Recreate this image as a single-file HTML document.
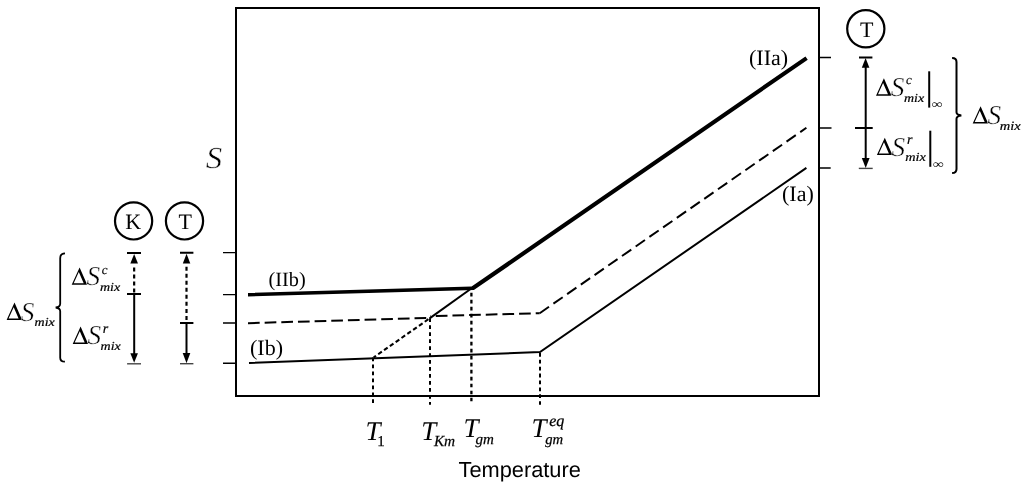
<!DOCTYPE html>
<html><head><meta charset="utf-8">
<style>
html,body{margin:0;padding:0;background:#fff;width:1024px;height:488px;overflow:hidden;}
svg{display:block;will-change:transform;}
text{font-family:"Liberation Serif",serif;fill:#000;text-rendering:geometricPrecision;}
.i{font-style:italic;}
.sans{font-family:"Liberation Sans",sans-serif;}
.b{stroke:#000;stroke-width:0.25px;}
</style></head>
<body>
<svg width="1024" height="488" viewBox="0 0 1024 488">
<defs><path id="dl" d="M0,0L7.9,-17.4L15.5,0ZM2,-1.5L12,-1.5L7.1,-12.74Z" fill="#000" fill-rule="evenodd"/></defs>
<!-- frame -->
<rect x="236" y="8" width="583" height="388" fill="none" stroke="#000" stroke-width="2"/>
<!-- left ticks -->
<g stroke="#000" stroke-width="1.4" fill="none">
<path d="M223,252.6H235M223,294.6H235M223,323H235M223,363.3H235"/>
<path d="M820,57.5H831M820,128H831.5M820,168H830.7"/>
</g>
<!-- curves -->
<g fill="none" stroke="#000" stroke-linejoin="miter">
<path d="M248,292.95L471.57,286.58L805.44,56.41L807.76,59.79L473.9,290.02L248,296.45Z" fill="#000" stroke="none"/>
<path d="M248,323.2L427.5,317.9" stroke-width="2" stroke-dasharray="11.7 4.96"/>
<path d="M430.3,316.15L539.7,313.2" stroke-width="2" stroke-dasharray="11.7 4.96" stroke-dashoffset="-5.5"/>
<path d="M539.7,313.2L806.4,127.8" stroke-width="2" stroke-dasharray="11.3 5.4"/>
<path d="M249,363L540,352.1L806.4,167.9" stroke-width="2"/>
<path d="M429.6,318.4L472,288" stroke-width="2"/>
<path d="M373.7,357.4L429.6,318.4" stroke-width="2.1" stroke-dasharray="4.4 2.7" stroke-dashoffset="1.6"/>
<path d="M373,357.6V403.6" stroke-width="2" stroke-dasharray="3.7 3.26"/>
<path d="M430,318.3V404.7" stroke-width="2" stroke-dasharray="3.7 3.27"/>
<path d="M471.4,292.8V401.4" stroke-width="2.3" stroke-dasharray="3.7 3.29"/>
<path d="M540,352.9V404.7" stroke-width="2" stroke-dasharray="3.8 3.1"/>
</g>
<!-- labels -->
<text x="190.5" y="167.6" class="i" font-size="30.5" transform="scale(1.08,1)" stroke="#fff" stroke-width="0.5">S</text>
<text x="749" y="64.7" font-size="22">(IIa)</text>
<text x="782" y="200.8" font-size="22">(Ia)</text>
<text x="268.6" y="285.8" font-size="20.3">(IIb)</text>
<text x="250" y="355.4" font-size="22">(Ib)</text>
<text x="365.4" y="439.9" class="i" font-size="27">T</text><text class="b" x="377.3" y="445.8" font-size="15">1</text>
<text x="421.2" y="440" class="i" font-size="27">T</text><text x="433.9" y="446.2" class="i b" font-size="15.3">Km</text>
<text x="463.5" y="436.9" class="i" font-size="27">T</text><text x="475.5" y="444.1" class="i b" font-size="15">gm</text>
<text x="531.5" y="436.9" class="i" font-size="27">T</text><text x="545.2" y="443.5" class="i b" font-size="14.7">gm</text><text x="549.2" y="426" class="i b" font-size="16">eq</text>
<text x="458.5" y="476.8" class="sans" font-size="21.8">Temperature</text>

<!-- left panel -->
<g fill="none" stroke="#000" stroke-width="2.2">
<circle cx="133.6" cy="220.9" r="18.6"/>
<circle cx="184.5" cy="220.9" r="18.6"/>
<circle cx="865.8" cy="28.8" r="18.6"/>
</g>
<text x="125.3" y="229.3" font-size="22">K</text>
<text x="178.5" y="229.3" font-size="22">T</text>
<text x="860" y="36.7" font-size="22">T</text>

<g stroke="#000" fill="none">
<!-- K column -->
<path d="M127,252.9H141M127,294.1H141" stroke-width="2"/>
<path d="M127.1,363.8H141" stroke-width="1.4" stroke="#444"/>
<path d="M134.15,267.4V293" stroke-width="2.2" stroke-dasharray="4.2 2.8"/>
<path d="M134.2,294V354" stroke-width="2"/>
<!-- T column -->
<path d="M180,252.8H193.4M180,322.9H193.4" stroke-width="2"/>
<path d="M180,363.7H193.4" stroke-width="1.4" stroke="#444"/>
<path d="M186.5,266.7V321" stroke-width="2.2" stroke-dasharray="4 3.03"/>
<path d="M186.5,322.9V354" stroke-width="2"/>
<!-- right column -->
<path d="M859,57.6H872.4M855,127.9H872.7" stroke-width="2"/>
<path d="M858.8,168.4H872.7" stroke-width="1.4" stroke="#444"/>
<path d="M865.7,67V159" stroke-width="2"/>
</g>
<g fill="#000">
<path d="M134.15,254L137.95,263.6L130.35,263.6Z"/>
<path d="M134.15,362.7L137.95,353.2L130.35,353.2Z"/>
<path d="M186.55,253.8L190.3,263.5L182.8,263.5Z"/>
<path d="M186.5,363.3L190.3,353L182.7,353Z"/>
<path d="M865.6,58.1L869.4,67.8L861.8,67.8Z"/>
<path d="M865.7,168.1L869.6,158L861.8,158Z"/>
</g>

<!-- left labels -->
<use href="#dl" x="71.7" y="284.8"/><text x="86.5" y="285.35" class="i" font-size="27.3" stroke="#fff" stroke-width="0.4">S</text>
<text x="101.8" y="273.75" class="i" font-size="13" stroke="#000" stroke-width="0.15">c</text>
<text transform="translate(99.9,291.45) scale(1,0.87)" class="i b" font-size="14">mix</text>
<use href="#dl" x="72.7" y="343.9"/><text x="87.4" y="344.25" class="i" font-size="27.3" stroke="#fff" stroke-width="0.4">S</text>
<text x="102.8" y="332.9" class="i" font-size="14" stroke="#000" stroke-width="0.2">r</text>
<text transform="translate(100.6,349.55) scale(1,0.87)" class="i b" font-size="14">mix</text>
<use href="#dl" x="6.6" y="319.9"/><text x="20.8" y="320.55" class="i" font-size="27.3" stroke="#fff" stroke-width="0.4">S</text>
<text transform="translate(34.6,326.05) scale(1,0.87)" class="i b" font-size="14">mix</text>
<path d="M65,253.3C62,253.3 60.2,254.9 60.2,258.3V303.7C60.2,305.8 58.5,307.1 55.7,307.5C58.5,307.9 60.2,309.2 60.2,311.3V357.7C60.2,360.3 62,361.7 64.9,361.7" fill="none" stroke="#000" stroke-width="1.8"/>

<!-- right labels -->
<use href="#dl" x="876" y="95.7"/><text x="890.8" y="96.25" class="i" font-size="27.3" stroke="#fff" stroke-width="0.4">S</text>
<text x="906" y="84.25" class="i" font-size="13" stroke="#000" stroke-width="0.15">c</text>
<text transform="translate(903.9,101.65) scale(1,0.87)" class="i b" font-size="14">mix</text>
<path d="M929.2,71.3V107.6" stroke="#000" stroke-width="2"/>
<text transform="translate(931.4,108.2) scale(1.11,0.85)" font-size="14">∞</text>
<use href="#dl" x="876.9" y="155.1"/><text x="891.4" y="155.65" class="i" font-size="27.3" stroke="#fff" stroke-width="0.4">S</text>
<text x="907" y="144.1" class="i" font-size="14" stroke="#000" stroke-width="0.2">r</text>
<text transform="translate(905.2,161.45) scale(1,0.87)" class="i b" font-size="14.3">mix</text>
<path d="M930.3,130.7V166.8" stroke="#000" stroke-width="2"/>
<text transform="translate(932.7,167.5) scale(1.11,0.85)" font-size="14">∞</text>
<path d="M952.1,57.9C955,57.9 956.5,59.3 956.5,62V112.3C956.5,114.2 958.5,115.1 961.3,115.5C958.5,115.9 956.5,116.8 956.5,118.7V169C956.5,171.6 955,173.1 952.1,173.1" fill="none" stroke="#000" stroke-width="2"/>
<use href="#dl" x="972.7" y="123.6"/><text x="987.4" y="124.3" class="i" font-size="27.3" stroke="#fff" stroke-width="0.4">S</text>
<text transform="translate(999.8,129.65) scale(1,0.87)" class="i b" font-size="14.5">mix</text>
</svg>
</body></html>
